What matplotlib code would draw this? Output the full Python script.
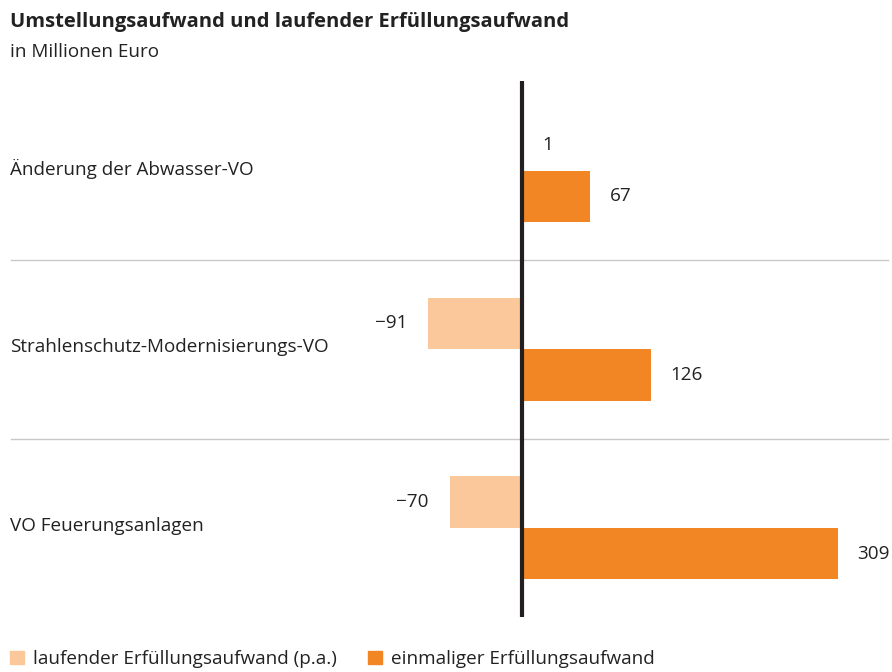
import matplotlib
matplotlib.use("Agg")
import matplotlib.pyplot as plt
from matplotlib.patches import Patch
from matplotlib.transforms import blended_transform_factory

plt.rcParams['font.family'] = ['Open Sans', 'DejaVu Sans']

# daten (Millionen Euro)
kategorien = ["Änderung der Abwasser-VO",
              "Strahlenschutz-Modernisierungs-VO",
              "VO Feuerungsanlagen"]
laufend = [1, -91, -70]        # laufender Erfüllungsaufwand (p.a.)
einmalig = [67, 126, 309]      # einmaliger Erfüllungsaufwand
serien = ["laufender Erfüllungsaufwand (p.a.)", "einmaliger Erfüllungsaufwand"]

farbe_hell = "#fbc89c"
farbe_orange = "#f28524"
textfarbe = "#222222"
fs = 13.6

W, H = 892, 672
fig = plt.figure(figsize=(W / 100, H / 100), dpi=100)
ax = fig.add_axes([0, 0, 1, 1])

# skala: 0 liegt bei ~521 px, 1 Mio = ~1.025 px
ax.set_xlim(-521.5 / 1.025, (W - 521.5) / 1.025)
ax.set_ylim(2.806, -0.954)
ax.axis("off")

pos = list(range(len(kategorien)))
hoehe = 0.288
off = 0.144
ax.barh([p - off for p in pos], laufend, height=hoehe, color=farbe_hell, zorder=2)
ax.barh([p + off for p in pos], einmalig, height=hoehe, color=farbe_orange, zorder=2)

# nulllinie
ax.vlines(0, -0.5, len(kategorien) - 0.5, color="#231f20", lw=3, zorder=3)

# trennlinien
for i in range(len(kategorien) - 1):
    ax.axhline(i + 0.5, xmin=11 / W, xmax=888 / W, color="#c8c8c8", lw=1, zorder=1)

trans = blended_transform_factory(ax.transAxes, ax.transData)
for p, name in zip(pos, kategorien):
    ax.text(10 / W, p - 0.01, name, transform=trans, ha="left", va="center",
            fontsize=fs, color=textfarbe)

def beschriften(werte, versatz):
    for p, v in zip(pos, werte):
        txt = str(v).replace("-", "\u2212")
        if v >= 0:
            ax.annotate(txt, (v, p + versatz), xytext=(14, 0), textcoords="offset points",
                        ha="left", va="center", fontsize=fs, color=textfarbe)
        else:
            ax.annotate(txt, (v, p + versatz), xytext=(-15, 0), textcoords="offset points",
                        ha="right", va="center", fontsize=fs, color=textfarbe)

beschriften(laufend, -off)
beschriften(einmalig, off)

fig.text(10 / W, 1 - 22 / H, "Umstellungsaufwand und laufender Erfüllungsaufwand",
         ha="left", va="center", fontsize=14.5, fontweight="bold", color=textfarbe)
fig.text(10 / W, 1 - 52 / H, "in Millionen Euro", ha="left", va="center",
         fontsize=fs, color=textfarbe)

handles = [Patch(color=farbe_hell), Patch(color=farbe_orange)]
fig.legend(handles, serien, loc="center left", bbox_to_anchor=(10 / W, 1 - 659 / H),
           ncol=2, frameon=False, fontsize=fs, handlelength=0.74, handleheight=0.74,
           handletextpad=0.48, columnspacing=1.64, borderpad=0, borderaxespad=0,
           labelcolor=textfarbe)

fig.savefig("out.png", dpi=100)
